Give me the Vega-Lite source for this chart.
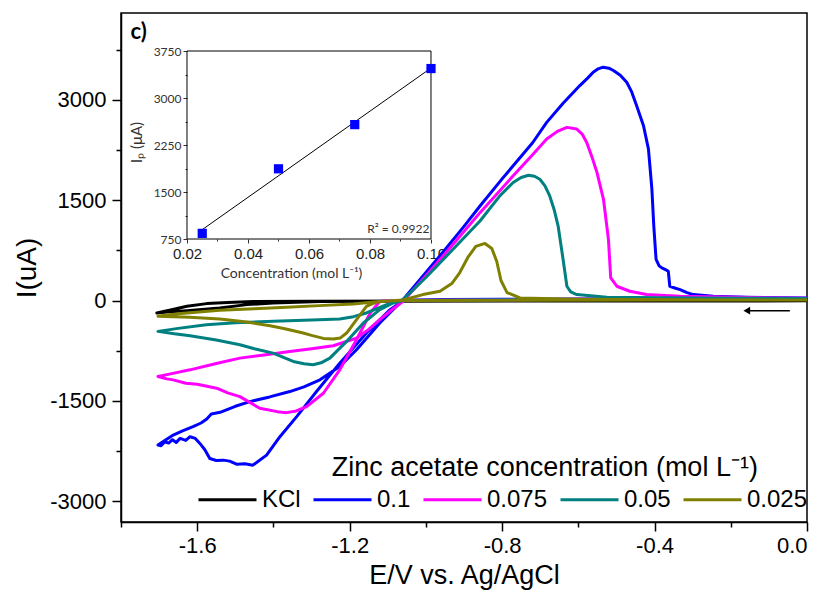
{
  "$schema": "https://vega.github.io/schema/vega-lite/v6.json",
  "width": 686,
  "height": 509,
  "autosize": "none",
  "padding": {"left": 121, "top": 13, "right": 22, "bottom": 77},
  "background": "white",
  "config": {
    "view": {"stroke": "black", "strokeWidth": 1.5},
    "axis": {"grid": false},
    "font": "Liberation Sans"
  },
  "datasets": {
    "cv": [
      {"s":"KCl","o":1,"E":0,"I":0},{"s":"KCl","o":2,"E":-0.5,"I":-3},{"s":"KCl","o":3,"E":-1.0,"I":-5},{"s":"KCl","o":4,"E":-1.3,"I":-8},{"s":"KCl","o":5,"E":-1.453,"I":-12},{"s":"KCl","o":6,"E":-1.52,"I":-28},{"s":"KCl","o":7,"E":-1.575,"I":-45},{"s":"KCl","o":8,"E":-1.627,"I":-85},{"s":"KCl","o":9,"E":-1.67,"I":-140},{"s":"KCl","o":10,"E":-1.706,"I":-185},{"s":"KCl","o":11,"E":-1.68,"I":-172},{"s":"KCl","o":12,"E":-1.627,"I":-150},{"s":"KCl","o":13,"E":-1.541,"I":-110},{"s":"KCl","o":14,"E":-1.47,"I":-60},{"s":"KCl","o":15,"E":-1.401,"I":-35},{"s":"KCl","o":16,"E":-1.278,"I":-14},{"s":"KCl","o":17,"E":-1.1,"I":-8},{"s":"KCl","o":18,"E":-0.7,"I":-6},{"s":"KCl","o":19,"E":0,"I":-4},

      {"s":"0.1","o":1,"E":0,"I":40},{"s":"0.1","o":2,"E":-0.2,"I":35},{"s":"0.1","o":3,"E":-0.4,"I":30},{"s":"0.1","o":4,"E":-0.6,"I":25},{"s":"0.1","o":5,"E":-0.8,"I":20},{"s":"0.1","o":6,"E":-0.95,"I":15},{"s":"0.1","o":7,"E":-1.02,"I":8},{"s":"0.1","o":8,"E":-1.06,"I":0},
      {"s":"0.1","o":9,"E":-1.094,"I":-135},{"s":"0.1","o":10,"E":-1.156,"I":-485},{"s":"0.1","o":11,"E":-1.226,"I":-935},{"s":"0.1","o":12,"E":-1.287,"I":-1360},{"s":"0.1","o":13,"E":-1.339,"I":-1735},{"s":"0.1","o":14,"E":-1.383,"I":-2035},{"s":"0.1","o":15,"E":-1.418,"I":-2310},{"s":"0.1","o":16,"E":-1.454,"I":-2460},{"s":"0.1","o":17,"E":-1.475,"I":-2440},{"s":"0.1","o":18,"E":-1.497,"I":-2445},{"s":"0.1","o":19,"E":-1.515,"I":-2400},{"s":"0.1","o":20,"E":-1.532,"I":-2385},{"s":"0.1","o":21,"E":-1.55,"I":-2390},{"s":"0.1","o":22,"E":-1.567,"I":-2360},{"s":"0.1","o":23,"E":-1.58,"I":-2230},{"s":"0.1","o":24,"E":-1.593,"I":-2135},{"s":"0.1","o":25,"E":-1.605,"I":-2060},{"s":"0.1","o":26,"E":-1.619,"I":-2035},{"s":"0.1","o":27,"E":-1.63,"I":-2090},{"s":"0.1","o":28,"E":-1.645,"I":-2060},{"s":"0.1","o":29,"E":-1.655,"I":-2120},{"s":"0.1","o":30,"E":-1.665,"I":-2080},{"s":"0.1","o":31,"E":-1.675,"I":-2130},{"s":"0.1","o":32,"E":-1.685,"I":-2110},{"s":"0.1","o":33,"E":-1.695,"I":-2170},{"s":"0.1","o":34,"E":-1.703,"I":-2160},
      {"s":"0.1","o":35,"E":-1.69,"I":-2110},{"s":"0.1","o":36,"E":-1.663,"I":-2010},{"s":"0.1","o":37,"E":-1.64,"I":-1950},{"s":"0.1","o":38,"E":-1.611,"I":-1885},{"s":"0.1","o":39,"E":-1.59,"I":-1830},{"s":"0.1","o":40,"E":-1.575,"I":-1770},{"s":"0.1","o":41,"E":-1.563,"I":-1695},{"s":"0.1","o":42,"E":-1.54,"I":-1670},{"s":"0.1","o":43,"E":-1.5,"I":-1580},{"s":"0.1","o":44,"E":-1.462,"I":-1510},{"s":"0.1","o":45,"E":-1.41,"I":-1440},{"s":"0.1","o":46,"E":-1.357,"I":-1360},{"s":"0.1","o":47,"E":-1.32,"I":-1290},{"s":"0.1","o":48,"E":-1.278,"I":-1185},{"s":"0.1","o":49,"E":-1.226,"I":-985},{"s":"0.1","o":50,"E":-1.182,"I":-735},{"s":"0.1","o":51,"E":-1.121,"I":-335},{"s":"0.1","o":52,"E":-1.06,"I":15},
      {"s":"0.1","o":53,"E":-1.0,"I":420},{"s":"0.1","o":54,"E":-0.95,"I":760},{"s":"0.1","o":55,"E":-0.9,"I":1110},{"s":"0.1","o":56,"E":-0.858,"I":1415},{"s":"0.1","o":57,"E":-0.8,"I":1820},{"s":"0.1","o":58,"E":-0.771,"I":2015},{"s":"0.1","o":59,"E":-0.72,"I":2360},{"s":"0.1","o":60,"E":-0.683,"I":2665},{"s":"0.1","o":61,"E":-0.64,"I":2950},{"s":"0.1","o":62,"E":-0.596,"I":3215},{"s":"0.1","o":63,"E":-0.575,"I":3330},{"s":"0.1","o":64,"E":-0.561,"I":3415},{"s":"0.1","o":65,"E":-0.548,"I":3465},{"s":"0.1","o":66,"E":-0.535,"I":3490},{"s":"0.1","o":67,"E":-0.52,"I":3475},{"s":"0.1","o":68,"E":-0.508,"I":3440},{"s":"0.1","o":69,"E":-0.49,"I":3370},{"s":"0.1","o":70,"E":-0.473,"I":3265},{"s":"0.1","o":71,"E":-0.46,"I":3120},{"s":"0.1","o":72,"E":-0.447,"I":2915},{"s":"0.1","o":73,"E":-0.429,"I":2615},{"s":"0.1","o":74,"E":-0.416,"I":2265},{"s":"0.1","o":75,"E":-0.407,"I":1665},{"s":"0.1","o":76,"E":-0.402,"I":1115},{"s":"0.1","o":77,"E":-0.396,"I":615},{"s":"0.1","o":78,"E":-0.388,"I":520},{"s":"0.1","o":79,"E":-0.381,"I":490},{"s":"0.1","o":80,"E":-0.37,"I":460},{"s":"0.1","o":81,"E":-0.364,"I":440},{"s":"0.1","o":82,"E":-0.36,"I":215},{"s":"0.1","o":83,"E":-0.345,"I":185},{"s":"0.1","o":84,"E":-0.333,"I":165},{"s":"0.1","o":85,"E":-0.315,"I":120},{"s":"0.1","o":86,"E":-0.298,"I":90},{"s":"0.1","o":87,"E":-0.246,"I":65},{"s":"0.1","o":88,"E":-0.158,"I":50},{"s":"0.1","o":89,"E":0,"I":40},

      {"s":"0.075","o":1,"E":0,"I":35},{"s":"0.075","o":2,"E":-0.3,"I":25},{"s":"0.075","o":3,"E":-0.6,"I":20},{"s":"0.075","o":4,"E":-0.9,"I":10},{"s":"0.075","o":5,"E":-1.06,"I":0},{"s":"0.075","o":6,"E":-1.121,"I":-10},
      {"s":"0.075","o":7,"E":-1.146,"I":-185},{"s":"0.075","o":8,"E":-1.182,"I":-585},{"s":"0.075","o":9,"E":-1.226,"I":-1035},{"s":"0.075","o":10,"E":-1.269,"I":-1385},{"s":"0.075","o":11,"E":-1.313,"I":-1585},{"s":"0.075","o":12,"E":-1.34,"I":-1650},{"s":"0.075","o":13,"E":-1.366,"I":-1675},{"s":"0.075","o":14,"E":-1.39,"I":-1660},{"s":"0.075","o":15,"E":-1.436,"I":-1610},{"s":"0.075","o":16,"E":-1.488,"I":-1435},{"s":"0.075","o":17,"E":-1.52,"I":-1380},{"s":"0.075","o":18,"E":-1.549,"I":-1310},{"s":"0.075","o":19,"E":-1.6,"I":-1250},{"s":"0.075","o":20,"E":-1.63,"I":-1235},{"s":"0.075","o":21,"E":-1.663,"I":-1185},{"s":"0.075","o":22,"E":-1.68,"I":-1170},{"s":"0.075","o":23,"E":-1.703,"I":-1135},
      {"s":"0.075","o":24,"E":-1.67,"I":-1095},{"s":"0.075","o":25,"E":-1.619,"I":-1035},{"s":"0.075","o":26,"E":-1.55,"I":-940},{"s":"0.075","o":27,"E":-1.488,"I":-860},{"s":"0.075","o":28,"E":-1.42,"I":-810},{"s":"0.075","o":29,"E":-1.357,"I":-760},{"s":"0.075","o":30,"E":-1.3,"I":-720},{"s":"0.075","o":31,"E":-1.243,"I":-675},{"s":"0.075","o":32,"E":-1.182,"I":-560},{"s":"0.075","o":33,"E":-1.15,"I":-430},{"s":"0.075","o":34,"E":-1.121,"I":-285},{"s":"0.075","o":35,"E":-1.09,"I":-140},{"s":"0.075","o":36,"E":-1.06,"I":-10},
      {"s":"0.075","o":37,"E":-1.0,"I":370},{"s":"0.075","o":38,"E":-0.93,"I":830},{"s":"0.075","o":39,"E":-0.858,"I":1315},{"s":"0.075","o":40,"E":-0.771,"I":1865},{"s":"0.075","o":41,"E":-0.72,"I":2180},{"s":"0.075","o":42,"E":-0.683,"I":2415},{"s":"0.075","o":43,"E":-0.655,"I":2530},{"s":"0.075","o":44,"E":-0.63,"I":2590},{"s":"0.075","o":45,"E":-0.604,"I":2565},{"s":"0.075","o":46,"E":-0.59,"I":2490},{"s":"0.075","o":47,"E":-0.578,"I":2365},{"s":"0.075","o":48,"E":-0.565,"I":2160},{"s":"0.075","o":49,"E":-0.551,"I":1915},{"s":"0.075","o":50,"E":-0.534,"I":1515},{"s":"0.075","o":51,"E":-0.521,"I":915},{"s":"0.075","o":52,"E":-0.515,"I":340},{"s":"0.075","o":53,"E":-0.499,"I":215},{"s":"0.075","o":54,"E":-0.465,"I":140},{"s":"0.075","o":55,"E":-0.421,"I":90},{"s":"0.075","o":56,"E":-0.333,"I":65},{"s":"0.075","o":57,"E":-0.15,"I":45},{"s":"0.075","o":58,"E":0,"I":35},

      {"s":"0.05","o":1,"E":0,"I":30},{"s":"0.05","o":2,"E":-0.5,"I":20},{"s":"0.05","o":3,"E":-0.9,"I":10},{"s":"0.05","o":4,"E":-1.06,"I":0},
      {"s":"0.05","o":5,"E":-1.086,"I":-35},{"s":"0.05","o":6,"E":-1.121,"I":-135},{"s":"0.05","o":7,"E":-1.164,"I":-335},{"s":"0.05","o":8,"E":-1.208,"I":-610},{"s":"0.05","o":9,"E":-1.252,"I":-860},{"s":"0.05","o":10,"E":-1.275,"I":-930},{"s":"0.05","o":11,"E":-1.296,"I":-960},{"s":"0.05","o":12,"E":-1.32,"I":-945},{"s":"0.05","o":13,"E":-1.348,"I":-910},{"s":"0.05","o":14,"E":-1.401,"I":-785},{"s":"0.05","o":15,"E":-1.45,"I":-720},{"s":"0.05","o":16,"E":-1.488,"I":-660},{"s":"0.05","o":17,"E":-1.55,"I":-590},{"s":"0.05","o":18,"E":-1.619,"I":-525},{"s":"0.05","o":19,"E":-1.66,"I":-495},{"s":"0.05","o":20,"E":-1.703,"I":-460},
      {"s":"0.05","o":21,"E":-1.65,"I":-415},{"s":"0.05","o":22,"E":-1.576,"I":-360},{"s":"0.05","o":23,"E":-1.5,"I":-330},{"s":"0.05","o":24,"E":-1.401,"I":-310},{"s":"0.05","o":25,"E":-1.3,"I":-290},{"s":"0.05","o":26,"E":-1.226,"I":-275},{"s":"0.05","o":27,"E":-1.19,"I":-240},{"s":"0.05","o":28,"E":-1.156,"I":-185},{"s":"0.05","o":29,"E":-1.103,"I":-60},{"s":"0.05","o":30,"E":-1.06,"I":15},
      {"s":"0.05","o":31,"E":-1.0,"I":345},{"s":"0.05","o":32,"E":-0.93,"I":760},{"s":"0.05","o":33,"E":-0.858,"I":1190},{"s":"0.05","o":34,"E":-0.806,"I":1565},{"s":"0.05","o":35,"E":-0.771,"I":1765},{"s":"0.05","o":36,"E":-0.75,"I":1840},{"s":"0.05","o":37,"E":-0.731,"I":1875},{"s":"0.05","o":38,"E":-0.715,"I":1860},{"s":"0.05","o":39,"E":-0.701,"I":1815},{"s":"0.05","o":40,"E":-0.688,"I":1720},{"s":"0.05","o":41,"E":-0.675,"I":1565},{"s":"0.05","o":42,"E":-0.663,"I":1350},{"s":"0.05","o":43,"E":-0.653,"I":1115},{"s":"0.05","o":44,"E":-0.64,"I":615},{"s":"0.05","o":45,"E":-0.63,"I":215},{"s":"0.05","o":46,"E":-0.62,"I":130},{"s":"0.05","o":47,"E":-0.604,"I":90},{"s":"0.05","o":48,"E":-0.525,"I":50},{"s":"0.05","o":49,"E":-0.3,"I":40},{"s":"0.05","o":50,"E":0,"I":30},

      {"s":"0.025","o":1,"E":0,"I":10},{"s":"0.025","o":2,"E":-0.4,"I":8},{"s":"0.025","o":3,"E":-0.75,"I":5},{"s":"0.025","o":4,"E":-1.06,"I":0},{"s":"0.025","o":5,"E":-1.1,"I":-5},{"s":"0.025","o":6,"E":-1.129,"I":-20},
      {"s":"0.025","o":7,"E":-1.156,"I":-85},{"s":"0.025","o":8,"E":-1.182,"I":-285},{"s":"0.025","o":9,"E":-1.208,"I":-485},{"s":"0.025","o":10,"E":-1.225,"I":-560},{"s":"0.025","o":11,"E":-1.243,"I":-575},{"s":"0.025","o":12,"E":-1.269,"I":-565},{"s":"0.025","o":13,"E":-1.3,"I":-520},{"s":"0.025","o":14,"E":-1.322,"I":-485},{"s":"0.025","o":15,"E":-1.37,"I":-420},{"s":"0.025","o":16,"E":-1.409,"I":-375},{"s":"0.025","o":17,"E":-1.47,"I":-320},{"s":"0.025","o":18,"E":-1.541,"I":-275},{"s":"0.025","o":19,"E":-1.62,"I":-250},{"s":"0.025","o":20,"E":-1.703,"I":-235},
      {"s":"0.025","o":21,"E":-1.65,"I":-195},{"s":"0.025","o":22,"E":-1.541,"I":-145},{"s":"0.025","o":23,"E":-1.45,"I":-120},{"s":"0.025","o":24,"E":-1.366,"I":-100},{"s":"0.025","o":25,"E":-1.28,"I":-75},{"s":"0.025","o":26,"E":-1.191,"I":-50},{"s":"0.025","o":27,"E":-1.138,"I":-20},{"s":"0.025","o":28,"E":-1.1,"I":-5},{"s":"0.025","o":29,"E":-1.06,"I":10},
      {"s":"0.025","o":30,"E":-1.008,"I":90},{"s":"0.025","o":31,"E":-0.963,"I":140},{"s":"0.025","o":32,"E":-0.932,"I":255},{"s":"0.025","o":33,"E":-0.911,"I":420},{"s":"0.025","o":34,"E":-0.89,"I":645},{"s":"0.025","o":35,"E":-0.869,"I":810},{"s":"0.025","o":36,"E":-0.845,"I":855},{"s":"0.025","o":37,"E":-0.827,"I":780},{"s":"0.025","o":38,"E":-0.814,"I":585},{"s":"0.025","o":39,"E":-0.803,"I":300},{"s":"0.025","o":40,"E":-0.787,"I":120},{"s":"0.025","o":41,"E":-0.753,"I":40},{"s":"0.025","o":42,"E":-0.6,"I":20},{"s":"0.025","o":43,"E":-0.3,"I":12},{"s":"0.025","o":44,"E":0,"I":10}
    ],
    "ip": [
      {"c":0.025,"ip":840},{"c":0.05,"ip":1870},{"c":0.075,"ip":2575},{"c":0.1,"ip":3470}
    ]
  },
  "layer": [
    {
      "layer": [
        {
          "data": {"name": "cv"},
          "mark": {"type": "line", "strokeWidth": 3, "strokeJoin": "round"},
          "encoding": {
            "x": {"field": "E", "type": "quantitative",
              "scale": {"domain": [-1.8, 0], "nice": false, "zero": false},
              "axis": {
                "values": [-1.8,-1.6,-1.4,-1.2,-1.0,-0.8,-0.6,-0.4,-0.2,0],
                "labelExpr": "round(abs(datum.value)*10) % 4 === 0 ? (datum.value < 0 ? '-' : '') + format(abs(datum.value), '.1f') : ''",
                "tickSize": {"condition": {"test": "round(abs(datum.value)*10) % 4 === 0", "value": 9}, "value": 5},
                "tickColor": "black", "tickWidth": 1.5, "domainColor": "black", "domainWidth": 1.5,
                "labelFont": "Liberation Sans", "labelFontSize": 22, "labelColor": "black", "labelPadding": 4,
                "title": "E/V vs. Ag/AgCl", "titleFont": "Liberation Sans", "titleFontSize": 27, "titleFontWeight": "normal", "titleColor": "black", "titlePadding": 6
              }
            },
            "y": {"field": "I", "type": "quantitative",
              "scale": {"domain": [-3310, 4300], "nice": false, "zero": false},
              "axis": {
                "values": [-3000,-2250,-1500,-750,0,750,1500,2250,3000,3750],
                "labelExpr": "datum.value % 1500 === 0 ? '' + datum.value : ''",
                "tickSize": {"condition": {"test": "datum.value % 1500 === 0", "value": 9}, "value": 5},
                "tickColor": "black", "tickWidth": 1.5, "domainColor": "black", "domainWidth": 1.5,
                "labelFont": "Liberation Sans", "labelFontSize": 22, "labelColor": "black", "labelPadding": 6,
                "title": "I(uA)", "titleFont": "Liberation Sans", "titleFontSize": 28, "titleFontWeight": "normal", "titleColor": "black", "titlePadding": 8
              }
            },
            "order": {"field": "o", "type": "quantitative"},
            "color": {"field": "s", "type": "nominal",
              "scale": {"domain": ["KCl","0.1","0.075","0.05","0.025"], "range": ["#000000","#0000ff","#ff00ff","#008080","#808000"]},
              "legend": {
                "orient": "none", "legendX": 76, "legendY": 456, "direction": "horizontal",
                "title": null,
                "labelFont": "Liberation Sans", "labelFontSize": 24, "labelColor": "black", "labelOffset": 4, "labelLimit": 0,
                "symbolType": "stroke", "symbolSize": 3364, "symbolStrokeWidth": 3,
                "columnPadding": 6, "padding": 0
              }
            }
          }
        },
        {
          "data": {"values": [{}]},
          "mark": {"type": "text", "text": "Zinc acetate concentration (mol L⁻¹)", "font": "Liberation Sans", "fontSize": 27, "align": "center", "baseline": "middle", "color": "black"},
          "encoding": {
            "x": {"datum": -0.688, "type": "quantitative"},
            "y": {"datum": -2510, "type": "quantitative"}
          }
        },
        {
          "data": {"values": [{}]},
          "mark": {"type": "rule", "color": "black", "strokeWidth": 1.5},
          "encoding": {
            "x": {"datum": -0.045, "type": "quantitative"},
            "x2": {"datum": -0.16},
            "y": {"datum": -150, "type": "quantitative"}
          }
        },
        {
          "data": {"values": [{}]},
          "mark": {"type": "point", "shape": "triangle-left", "filled": true, "color": "black", "size": 60, "opacity": 1},
          "encoding": {
            "x": {"datum": -0.158, "type": "quantitative"},
            "y": {"datum": -150, "type": "quantitative"}
          }
        },
        {
          "data": {"values": [{}]},
          "mark": {"type": "text", "text": "c)", "font": "Lato", "fontWeight": "bold", "fontSize": 22, "align": "left", "baseline": "middle", "color": "black"},
          "encoding": {
            "x": {"datum": -1.775, "type": "quantitative"},
            "y": {"datum": 4015, "type": "quantitative"}
          }
        }
      ]
    },
    {
      "layer": [
        {
          "data": {"values": [{}]},
          "mark": {"type": "rect", "fill": null, "stroke": "black", "strokeWidth": 1},
          "encoding": {
            "x": {"datum": 0.02, "type": "quantitative", "scale": {"domain": [-0.001639, 0.22328], "nice": false, "zero": false}},
            "x2": {"datum": 0.1},
            "y": {"datum": 750, "type": "quantitative", "scale": {"domain": [-3765.9, 4356.4], "nice": false, "zero": false}},
            "y2": {"datum": 3750}
          }
        },
        {
          "data": {"name": "ip"},
          "transform": [{"regression": "ip", "on": "c", "method": "linear", "extent": [0.025, 0.1]}],
          "mark": {"type": "line", "color": "black", "strokeWidth": 1},
          "encoding": {
            "x": {"field": "c", "type": "quantitative"},
            "y": {"field": "ip", "type": "quantitative"}
          }
        },
        {
          "data": {"name": "ip"},
          "mark": {"type": "point", "shape": "square", "filled": true, "color": "#0000ff", "size": 85, "opacity": 1},
          "encoding": {
            "x": {"field": "c", "type": "quantitative",
              "axis": {
                "orient": "bottom", "offset": -283, "domain": false,
                "values": [0.02,0.03,0.04,0.05,0.06,0.07,0.08,0.09,0.1],
                "labelExpr": "round(datum.value*100) % 2 === 0 ? format(datum.value, '.2f') : ''",
                "tickSize": {"condition": {"test": "round(datum.value*100) % 2 === 0", "value": 4}, "value": 2},
                "tickColor": "#333333", "tickWidth": 1,
                "labelFont": "Liberation Sans", "labelFontSize": 15, "labelColor": "#222222", "labelPadding": 3,
                "title": "Concentration (mol L⁻¹)", "titleFont": "Lato", "titleFontSize": 14, "titleFontWeight": "normal", "titleColor": "#333333",
                "titleX": 170, "titleY": 27, "titleAnchor": null
              }
            },
            "y": {"field": "ip", "type": "quantitative",
              "axis": {
                "orient": "left", "offset": -66, "domain": false,
                "values": [750,1125,1500,1875,2250,2625,3000,3375,3750],
                "labelExpr": "datum.value % 750 === 0 ? '' + datum.value : ''",
                "tickSize": {"condition": {"test": "datum.value % 750 === 0", "value": 4}, "value": 2},
                "tickColor": "#333333", "tickWidth": 1,
                "labelFont": "Lato", "labelFontSize": 12, "labelColor": "#333333", "labelPadding": 2,
                "title": "Iₚ (μA)", "titleFont": "Lato", "titleFontSize": 15, "titleFontWeight": "normal", "titleColor": "#333333",
                "titleX": -43, "titleY": 129, "titleAnchor": null
              }
            }
          }
        },
        {
          "data": {"values": [{}]},
          "mark": {"type": "text", "text": "R² = 0.9922", "font": "Lato", "fontSize": 12, "align": "right", "baseline": "middle", "color": "#333333"},
          "encoding": {
            "x": {"datum": 0.0995, "type": "quantitative"},
            "y": {"datum": 910, "type": "quantitative"}
          }
        }
      ]
    }
  ],
  "resolve": {"scale": {"x": "independent", "y": "independent"}, "axis": {"x": "independent", "y": "independent"}}
}
